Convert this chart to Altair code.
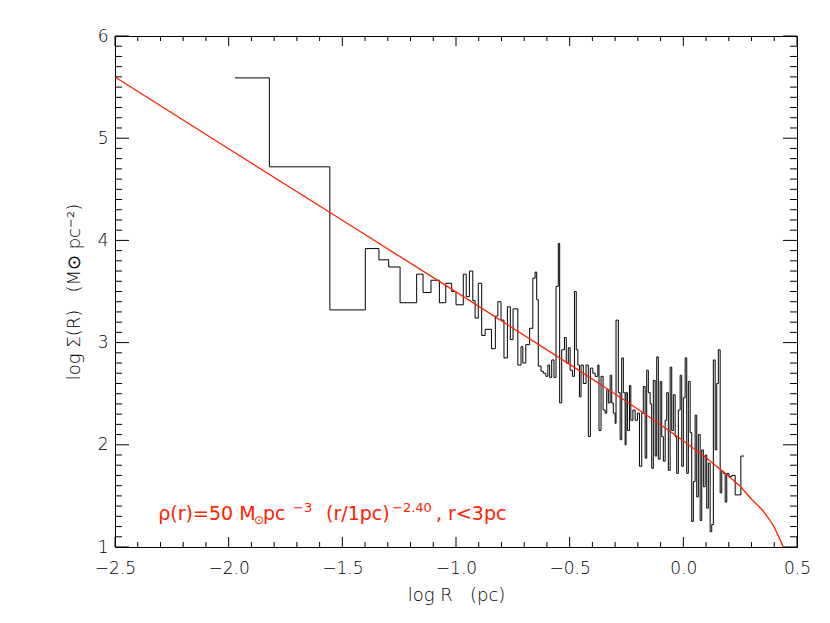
import altair as alt
import pandas as pd

# ---- data ----
hist_logR = [-1.972, -1.821, -1.555, -1.399, -1.339, -1.296, -1.246, -1.173, -1.145, -1.110,
             -1.073, -1.045, -1.019, -1.000, -0.968, -0.955, -0.941, -0.926, -0.916, -0.902,
             -0.887, -0.872, -0.844, -0.827, -0.816, -0.802, -0.789, -0.774, -0.761, -0.749,
             -0.728, -0.714, -0.706, -0.693, -0.676, -0.662, -0.652, -0.645, -0.638, -0.626,
             -0.616, -0.605, -0.596, -0.588, -0.579, -0.569, -0.560, -0.550, -0.544, -0.535,
             -0.523, -0.515, -0.506, -0.498, -0.488, -0.479, -0.471, -0.464, -0.457, -0.450,
             -0.440, -0.428, -0.418, -0.409, -0.398, -0.388, -0.376, -0.371, -0.362, -0.353,
             -0.344, -0.337, -0.330, -0.322, -0.315, -0.308, -0.300, -0.296, -0.286, -0.278,
             -0.271, -0.264, -0.256, -0.252, -0.246, -0.237, -0.231, -0.222, -0.212, -0.202,
             -0.193, -0.183, -0.176, -0.168, -0.161, -0.154, -0.146, -0.139, -0.132, -0.124,
             -0.117, -0.110, -0.102, -0.095, -0.088, -0.080, -0.073, -0.066, -0.058, -0.051,
             -0.044, -0.036, -0.029, -0.022, -0.014, -0.007, 0.000, 0.008, 0.015, 0.022,
             0.030, 0.037, 0.044, 0.052, 0.059, 0.066, 0.074, 0.081, 0.088, 0.096,
             0.103, 0.110, 0.118, 0.125, 0.132, 0.140, 0.147, 0.154, 0.162, 0.169,
             0.176, 0.184, 0.191, 0.201, 0.213, 0.228, 0.253, 0.267]
hist_logS = [5.59, 4.72, 3.32, 3.92, 3.81, 3.74, 3.39, 3.67, 3.49, 3.61,
             3.39, 3.58, 3.50, 3.37, 3.67, 3.45, 3.70, 3.41, 3.24, 3.58,
             3.07, 3.13, 2.94, 3.26, 3.40, 3.22, 2.85, 3.35, 3.03, 3.33,
             2.78, 2.96, 2.80, 2.98, 3.14, 3.63, 3.69, 3.42, 2.77, 2.72,
             2.70, 2.67, 2.78, 2.66, 2.83, 2.66, 3.55, 3.97, 2.41, 2.93,
             3.05, 2.80, 2.95, 2.73, 2.67, 3.50, 2.93, 2.78, 2.47, 2.78,
             2.60, 2.78, 2.08, 2.75, 2.70, 2.67, 2.78, 2.14, 2.67, 2.34,
             2.31, 2.54, 2.41, 2.68, 2.41, 2.31, 2.21, 3.22, 2.51, 2.05,
             2.85, 2.51, 2.00, 2.51, 2.14, 2.58, 2.24, 2.34, 2.24, 2.31,
             1.79, 2.31, 2.57, 1.87, 2.73, 2.51, 2.40, 1.77, 2.63, 1.89,
             2.86, 1.86, 2.62, 2.08, 1.84, 2.24, 2.51, 1.75, 2.76, 2.14,
             2.49, 2.08, 1.72, 2.34, 2.68, 1.79, 2.46, 2.85, 1.72, 2.62,
             2.12, 1.25, 1.64, 2.29, 1.49, 2.10, 1.26, 1.95, 1.59, 1.90,
             1.38, 1.82, 1.15, 1.22, 2.83, 1.95, 2.60, 2.93, 1.53, 1.74,
             1.72, 1.44, 1.72, 1.69, 1.70, 1.51, 1.89, 1.89]

model_logR = [-2.5, -2.0, -1.5, -1.0, -0.5, -0.25, -0.1, 0.0, 0.1, 0.2,
              0.25, 0.3, 0.35, 0.38, 0.4, 0.43, 0.44, 0.45, 0.47]
model_logS = [5.598, 4.897, 4.197, 3.496, 2.787, 2.424, 2.197, 2.040, 1.874, 1.693,
              1.594, 1.467, 1.357, 1.264, 1.194, 1.051, 0.990, 0.920, 0.600]

note_text = ["ρ(r)=50 M", "⊙", "pc", "−3", "(r/1pc)", "−2.40", ", r<3pc"]
note_x = [-2.3095, -1.8885, -1.8489, -1.7169, -1.5717, -1.2814, -1.0878]
note_y = [1.264, 1.225, 1.264, 1.345, 1.264, 1.345, 1.264]
note_size = [19, 12, 19, 13, 19, 13, 19]

x_major = [-2.5, -2.0, -1.5, -1.0, -0.5, 0.0, 0.5]
x_minor = [round(-2.5 + 0.1 * i, 1) for i in range(31) if i % 5]
y_major = [1, 2, 3, 4, 5, 6]
y_minor = [round(1 + 0.1 * i, 1) for i in range(51) if i % 10]

W, H = 682, 511
FONT = "DejaVu Sans"
RED = "#ff2200"
NB = "\u00a0"

hist_df = pd.DataFrame({"logR": hist_logR, "logS": hist_logS})
model_df = pd.DataFrame({"logR": model_logR, "logS": model_logS})
note_df = pd.DataFrame({"text": note_text, "x": note_x, "y": note_y, "size": note_size})

xs = alt.Scale(domain=[-2.5, 0.5], nice=False, zero=False)
ys = alt.Scale(domain=[1, 6], nice=False, zero=False)

hist = alt.Chart(hist_df).mark_line(interpolate="step-after", color="black", strokeWidth=1).encode(
    x=alt.X("logR:Q", scale=xs, axis=alt.Axis(
        orient="bottom", values=x_major, format=".1f", ticks=False, tickSize=0,
        domain=True, domainColor="black", domainWidth=1, grid=False,
        labelFlush=False, labelOverlap=False,
        labelFont=FONT, labelFontSize=17, labelFontWeight=300, labelColor="#000", labelPadding=13,
        title="log R" + NB * 3 + "(pc)", titleFont=FONT, titleFontSize=18, titleFontWeight=300,
        titleColor="#000", titlePadding=10)),
    y=alt.Y("logS:Q", scale=ys, axis=alt.Axis(
        orient="left", values=y_major, format="d", ticks=False, tickSize=0,
        domain=True, domainColor="black", domainWidth=1, grid=False,
        labelFlush=False, labelOverlap=False,
        labelFont=FONT, labelFontSize=17, labelFontWeight=300, labelColor="#000", labelPadding=7,
        title="log Σ(R)" + NB * 3 + "(M⊙ pc⁻²)", titleFont=FONT, titleFontSize=18,
        titleFontWeight=300, titleColor="#000", titlePadding=14)),
)

# top and right frame lines as the domains of mirrored axes
frame = alt.Chart(model_df).mark_line(opacity=0, clip=True).encode(
    x=alt.X("logR:Q", scale=xs, axis=alt.Axis(
        orient="top", offset=0, ticks=False, tickSize=0, labels=False, grid=False,
        domain=True, domainColor="black", domainWidth=1, title=None)),
    y=alt.Y("logS:Q", scale=ys, axis=alt.Axis(
        orient="right", offset=0, ticks=False, tickSize=0, labels=False, grid=False,
        domain=True, domainColor="black", domainWidth=1, title=None)),
)

model = alt.Chart(model_df).mark_line(color=RED, strokeWidth=1.3, clip=True).encode(
    x=alt.X("logR:Q", scale=xs, axis=None),
    y=alt.Y("logS:Q", scale=ys, axis=None),
)

# inward tick marks on all four sides (positions go through the shared scales)
xmaj_df = pd.DataFrame({"v": x_major})
xmin_df = pd.DataFrame({"v": x_minor})
ymaj_df = pd.DataFrame({"v": y_major})
ymin_df = pd.DataFrame({"v": y_minor})


def xticks(df, length):
    bottom = alt.Chart(df).mark_rule(color="black", strokeWidth=1).encode(
        x=alt.X("v:Q", scale=xs, axis=None), y=alt.value(H), y2=alt.value(H - length))
    top = alt.Chart(df).mark_rule(color="black", strokeWidth=1).encode(
        x=alt.X("v:Q", scale=xs, axis=None), y=alt.value(0), y2=alt.value(length))
    return [bottom, top]


def yticks(df, length):
    left = alt.Chart(df).mark_rule(color="black", strokeWidth=1).encode(
        y=alt.Y("v:Q", scale=ys, axis=None), x=alt.value(0), x2=alt.value(length))
    right = alt.Chart(df).mark_rule(color="black", strokeWidth=1).encode(
        y=alt.Y("v:Q", scale=ys, axis=None), x=alt.value(W), x2=alt.value(W - length))
    return [left, right]


tick_layers = xticks(xmaj_df, 10) + xticks(xmin_df, 5) + yticks(ymaj_df, 14) + yticks(ymin_df, 7)

note = alt.Chart(note_df).mark_text(align="left", baseline="alphabetic", color=RED,
                                    font=FONT).encode(
    x=alt.X("x:Q", scale=xs, axis=None),
    y=alt.Y("y:Q", scale=ys, axis=None),
    text="text:N",
    size=alt.Size("size:Q", scale=None, legend=None),
)

chart = alt.layer(hist, frame, model, *tick_layers, note).resolve_scale(
    x="shared", y="shared"
).resolve_axis(
    x="independent", y="independent"
).properties(
    width=W, height=H,
    background="white",
    autosize=alt.AutoSizeParams(type="none"),
    padding={"left": 107, "top": 28, "right": 25, "bottom": 60},
).configure_view(stroke=None)

chart.save("out.html", embed_options={"renderer": "svg", "actions": False})
